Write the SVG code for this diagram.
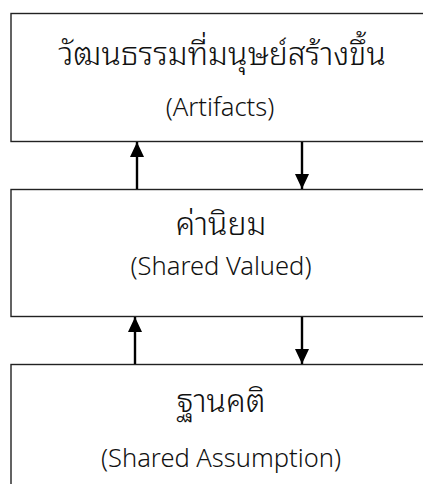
<svg xmlns="http://www.w3.org/2000/svg" width="423" height="484" viewBox="0 0 423 484">
<style>
.box{fill:#fff;stroke:#222;stroke-width:1.4}
.t{font-family:"Noto Sans","Liberation Sans",sans-serif;font-size:25.5px;fill:#111;text-anchor:middle;font-weight:300}
.th{font-family:"Noto Sans Thai Looped","Noto Sans","Liberation Sans",sans-serif;font-size:32px;font-weight:300}
.c{stroke:#000;stroke-width:2.4;fill:none}
</style>
<defs>
<marker id="ah" viewBox="0 0 15 14" refX="15" refY="7" markerWidth="15" markerHeight="14" markerUnits="userSpaceOnUse" orient="auto">
<path d="M0,0 L15,7 L0,14 Z" fill="#000"/>
</marker>
</defs>
<rect width="423" height="484" fill="#fff"/>
<g id="node-artifacts">
<rect class="box" x="11" y="13.5" width="420" height="128"/>
<text class="t th" x="222" y="65">วัฒนธรรมที่มนุษย์สร้างขึ้น</text>
<text class="t" x="220" y="116">(Artifacts)</text>
</g>
<g id="node-values">
<rect class="box" x="11" y="189.5" width="420" height="127"/>
<text class="t th" x="221" y="235">ค่านิยม</text>
<text class="t" x="221" y="275">(Shared Valued)</text>
</g>
<g id="node-assumption">
<rect class="box" x="11" y="364.5" width="420" height="130"/>
<text class="t th" x="221" y="412">ฐานคติ</text>
<text class="t" x="221" y="467">(Shared Assumption)</text>
</g>
<g id="connectors">
<line class="c" x1="137" y1="189" x2="137" y2="142" marker-end="url(#ah)"/>
<line class="c" x1="302" y1="142" x2="302" y2="189" marker-end="url(#ah)"/>
<line class="c" x1="135" y1="364" x2="135" y2="317" marker-end="url(#ah)"/>
<line class="c" x1="302" y1="317" x2="302" y2="364" marker-end="url(#ah)"/>
</g>
</svg>
